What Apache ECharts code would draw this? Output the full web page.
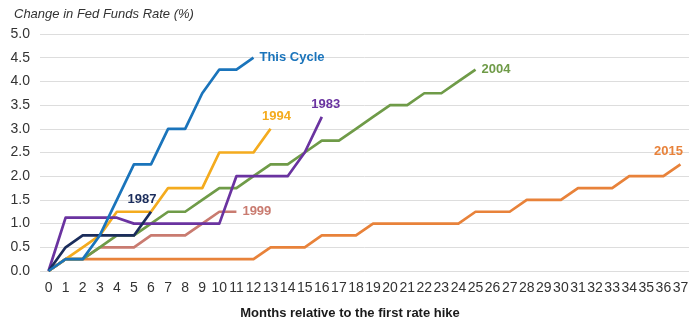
<!DOCTYPE html>
<html>
<head>
<meta charset="utf-8">
<script src="https://cdn.jsdelivr.net/npm/echarts@6/dist/echarts.min.js"></script>
<style>
html,body{margin:0;padding:0;background:#fff;}
#c{width:700px;height:324px;}
</style>
</head>
<body>
<div id="c"></div>
<script>
// Months relative to first rate hike
const months = Array.from({length: 38}, (_, i) => String(i));
const yTicks = [0, 0.5, 1, 1.5, 2, 2.5, 3, 3.5, 4, 4.5, 5];

// Change in Fed Funds Rate (%) per cycle
const thisCycle = [0, 0.25, 0.25, 0.75, 1.5, 2.25, 2.25, 3.0, 3.0, 3.75, 4.25, 4.25, 4.5];
const c1994 = [0, 0.25, 0.5, 0.75, 1.25, 1.25, 1.25, 1.75, 1.75, 1.75, 2.5, 2.5, 2.5, 3.0];
const c1983 = [0, 1.125, 1.125, 1.125, 1.125, 1.0, 1.0, 1.0, 1.0, 1.0, 1.0, 2.0, 2.0, 2.0, 2.0, 2.5, 3.25];
const c2004 = [0, 0.25, 0.25, 0.5, 0.75, 0.75, 1.0, 1.25, 1.25, 1.5, 1.75, 1.75, 2.0, 2.25, 2.25, 2.5, 2.75, 2.75, 3.0, 3.25, 3.5, 3.5, 3.75, 3.75, 4.0, 4.25];
const c2015 = [0, 0.25, 0.25, 0.25, 0.25, 0.25, 0.25, 0.25, 0.25, 0.25, 0.25, 0.25, 0.25, 0.5, 0.5, 0.5, 0.75, 0.75, 0.75, 1.0, 1.0, 1.0, 1.0, 1.0, 1.0, 1.25, 1.25, 1.25, 1.5, 1.5, 1.5, 1.75, 1.75, 1.75, 2.0, 2.0, 2.0, 2.25];
const c1987 = [0, 0.5, 0.75, 0.75, 0.75, 0.75, 1.25];
const c1999 = [0, 0.25, 0.25, 0.5, 0.5, 0.5, 0.75, 0.75, 0.75, 1.0, 1.25, 1.25];

const FONT = '"Liberation Sans", Arial, sans-serif';

function mkSeries(name, data, color, z, labelMode, offset) {
  const s = {
    name: name,
    type: 'line',
    data: data.slice(),
    symbol: 'circle',
    symbolSize: 0,
    showSymbol: true,
    z: z,
    lineStyle: {color: color, width: 2.7, join: 'round'},
    itemStyle: {color: color},
    emphasis: {disabled: true},
    animation: false
  };
  const lbl = {show: true, color: color, fontFamily: FONT, fontWeight: 'bold', fontSize: 13, formatter: name};
  if (labelMode === 'end') {
    s.endLabel = Object.assign({distance: 6}, lbl);
  } else {
    const last = s.data.length - 1;
    s.data[last] = {value: s.data[last], label: Object.assign({position: 'top', distance: 6, offset: offset || [0, 0]}, lbl)};
  }
  return s;
}

const chart = echarts.init(document.getElementById('c'), null, {renderer: 'canvas'});
chart.setOption({
  backgroundColor: '#ffffff',
  animation: false,
  grid: {left: 40, right: 11, top: 34, bottom: 53, containLabel: false},
  title: {
    text: 'Change in Fed Funds Rate (%)',
    left: 9, top: 3,
    textStyle: {fontFamily: FONT, fontStyle: 'italic', fontWeight: 'normal', fontSize: 13, color: '#333'}
  },
  graphic: [{
    type: 'text', left: 'center', top: 307, x: -11,
    style: {text: 'Months relative to the first rate hike', fontFamily: FONT, fontWeight: 'bold', fontSize: 13, fill: '#1a1a1a'}
  }],
  xAxis: {
    type: 'category',
    data: months,
    boundaryGap: true,
    axisLine: {show: false},
    axisTick: {show: false},
    axisLabel: {interval: 0, margin: 10, fontFamily: FONT, fontSize: 14, color: '#333'},
    splitLine: {show: false}
  },
  yAxis: {
    type: 'value',
    min: yTicks[0], max: yTicks[yTicks.length - 1], interval: 0.5,
    axisLine: {show: false},
    axisTick: {show: false},
    axisLabel: {margin: 10, fontFamily: FONT, fontSize: 14, color: '#333', formatter: v => v.toFixed(1)},
    splitLine: {lineStyle: {color: '#dddddd', width: 1}}
  },
  series: [
    mkSeries('2015', c2015, '#e8823a', 2, 'top', [-12, 0]),
    mkSeries('1999', c1999, '#c97b70', 3, 'end'),
    mkSeries('2004', c2004, '#6f9b48', 4, 'end'),
    mkSeries('1994', c1994, '#f4ab1e', 5, 'top', [6, 0]),
    mkSeries('1983', c1983, '#6a33a0', 6, 'top', [4, 0]),
    mkSeries('1987', c1987, '#1b2d5c', 7, 'top', [-9, 0]),
    mkSeries('This Cycle', thisCycle, '#1a74bb', 8, 'end')
  ]
});
</script>
</body>
</html>
